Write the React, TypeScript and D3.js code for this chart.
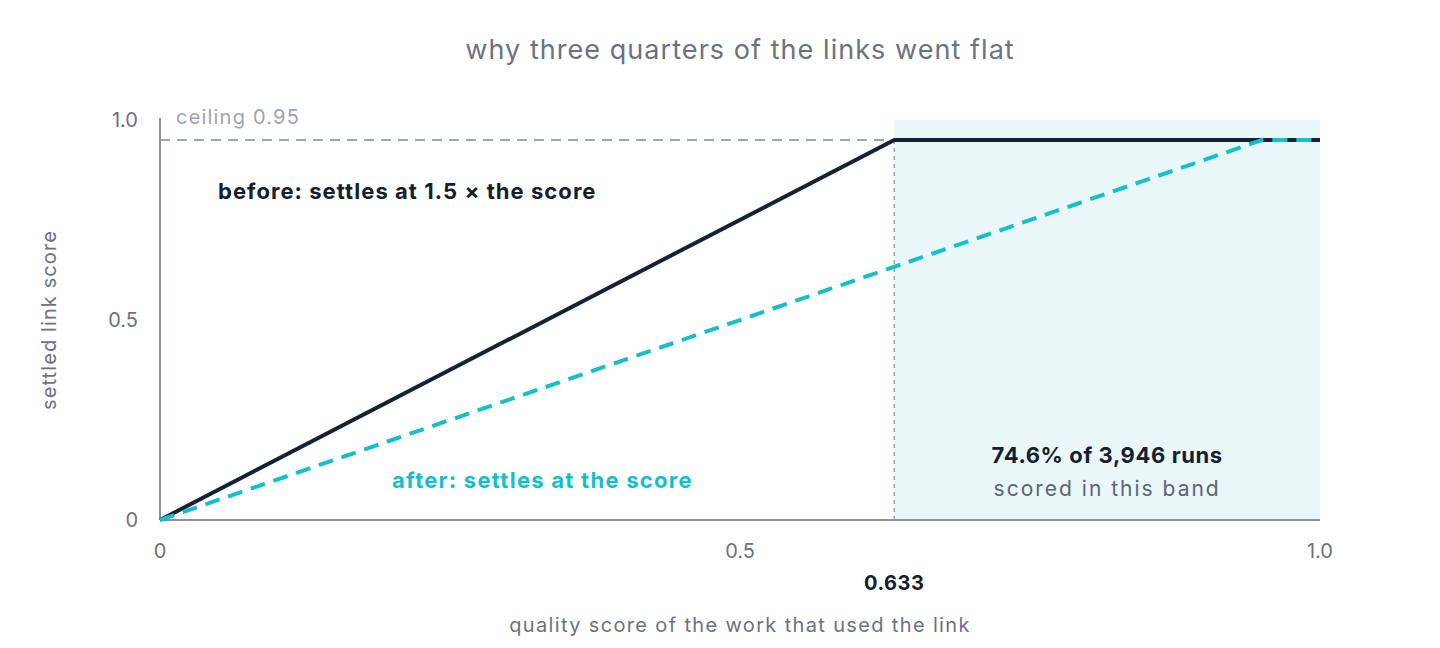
import React, { useEffect, useRef } from "react";
import * as d3 from "d3";

// data
const beforeX = [0, 0.633, 1];
const beforeY = [0, 0.95, 0.95];
const afterX = [0, 0.95, 1];
const afterY = [0, 0.95, 0.95];
const ceiling = 0.95;
const bandStart = 0.633;
const xTicks = [0, 0.5, 1];
const xTickLabels = ["0", "0.5", "1.0"];
const yTicks = [0, 0.5, 1];
const yTickLabels = ["0", "0.5", "1.0"];
const bandShare = "74.6% of 3,946 runs";

const FONT = "Inter, 'Open Sans', sans-serif";

export default function App() {
    const svgRef = useRef<SVGSVGElement | null>(null);

    useEffect(() => {
        if (!svgRef.current) return;
        const width = 1440;
        const height = 648;
        const svg = d3.select(svgRef.current);
        svg.selectAll("*").remove();
        svg.attr("viewBox", `0 0 ${width} ${height}`).style("font-family", FONT);

        const margin = { top: 120, right: 120, bottom: 128, left: 160 };
        const x = d3.scaleLinear().domain([0, 1]).range([margin.left, width - margin.right]);
        const y = d3.scaleLinear().domain([0, 1]).range([height - margin.bottom, margin.top]);

        // title
        svg.append("text")
            .attr("x", 740)
            .attr("y", 59)
            .attr("text-anchor", "middle")
            .attr("font-size", 27)
            .attr("letter-spacing", 1.05)
            .attr("fill", "#6b7280")
            .text("why three quarters of the links went flat");

        // shaded band
        svg.append("rect")
            .attr("x", x(bandStart))
            .attr("y", y(1))
            .attr("width", x(1) - x(bandStart))
            .attr("height", y(0) - y(1))
            .attr("fill", "#e9f7f9");

        // ceiling
        svg.append("line")
            .attr("x1", x(0)).attr("x2", x(1))
            .attr("y1", y(ceiling)).attr("y2", y(ceiling))
            .attr("stroke", "#9ca5b0")
            .attr("stroke-width", 2)
            .attr("stroke-dasharray", "10 7");
        svg.append("text")
            .attr("x", x(0) + 16)
            .attr("y", y(ceiling) - 16)
            .attr("font-size", 20)
            .attr("letter-spacing", 1.2)
            .attr("fill", "#9ca5b0")
            .text("ceiling 0.95");

        // band start marker
        svg.append("line")
            .attr("x1", x(bandStart)).attr("x2", x(bandStart))
            .attr("y1", y(ceiling)).attr("y2", y(0))
            .attr("stroke", "#9ca5b0")
            .attr("stroke-width", 1.5)
            .attr("stroke-dasharray", "4 4");

        // axes
        svg.append("line")
            .attr("x1", x(0)).attr("x2", x(0))
            .attr("y1", y(1) - 2).attr("y2", y(0))
            .attr("stroke", "#8c929b").attr("stroke-width", 2);
        svg.append("line")
            .attr("x1", x(0)).attr("x2", x(1))
            .attr("y1", y(0)).attr("y2", y(0))
            .attr("stroke", "#8c929b").attr("stroke-width", 2);

        xTicks.forEach((t, i) => {
            svg.append("text")
                .attr("x", x(t))
                .attr("y", y(0) + 38)
                .attr("text-anchor", "middle")
                .attr("font-size", 20)
                .attr("fill", "#6b7280")
                .text(xTickLabels[i]);
        });
        yTicks.forEach((t, i) => {
            svg.append("text")
                .attr("x", x(0) - 22)
                .attr("y", y(t) + 7)
                .attr("text-anchor", "end")
                .attr("font-size", 20)
                .attr("fill", "#6b7280")
                .text(yTickLabels[i]);
        });
        svg.append("text")
            .attr("x", x(bandStart))
            .attr("y", y(0) + 70)
            .attr("text-anchor", "middle")
            .attr("font-size", 20)
            .attr("font-weight", 700)
            .attr("letter-spacing", 0.5)
            .attr("fill", "#14202e")
            .text(String(bandStart));

        // axis titles
        svg.append("text")
            .attr("x", (x(0) + x(1)) / 2)
            .attr("y", y(0) + 112)
            .attr("text-anchor", "middle")
            .attr("font-size", 20)
            .attr("letter-spacing", 1.35)
            .attr("fill", "#6b7280")
            .text("quality score of the work that used the link");
        svg.append("text")
            .attr("transform", `translate(56, ${(y(0) + y(1)) / 2}) rotate(-90)`)
            .attr("text-anchor", "middle")
            .attr("font-size", 20)
            .attr("letter-spacing", 1.1)
            .attr("fill", "#6b7280")
            .text("settled link score");

        const line = d3.line<[number, number]>()
            .x((d) => x(d[0]))
            .y((d) => y(d[1]));

        svg.append("path")
            .datum(beforeX.map((v, i) => [v, beforeY[i]] as [number, number]))
            .attr("fill", "none")
            .attr("stroke", "#152232")
            .attr("stroke-width", 4)
            .attr("d", line);

        svg.append("path")
            .datum(afterX.map((v, i) => [v, afterY[i]] as [number, number]))
            .attr("fill", "none")
            .attr("stroke", "#14bfcc")
            .attr("stroke-width", 4)
            .attr("stroke-dasharray", "15 9")
            .attr("d", line);

        // series labels
        svg.append("text")
            .attr("x", 218)
            .attr("y", 199)
            .attr("font-size", 22)
            .attr("font-weight", 700)
            .attr("letter-spacing", 1.05)
            .attr("fill", "#14202e")
            .text("before: settles at 1.5 × the score");
        svg.append("text")
            .attr("x", 392)
            .attr("y", 488)
            .attr("font-size", 22)
            .attr("font-weight", 700)
            .attr("letter-spacing", 1.25)
            .attr("fill", "#14bfcc")
            .text("after: settles at the score");

        // band note
        const bandMid = (x(bandStart) + x(1)) / 2;
        svg.append("text")
            .attr("x", bandMid)
            .attr("y", 463)
            .attr("text-anchor", "middle")
            .attr("font-size", 22)
            .attr("font-weight", 700)
            .attr("letter-spacing", 0.6)
            .attr("fill", "#14202e")
            .text(bandShare);
        svg.append("text")
            .attr("x", bandMid)
            .attr("y", 496)
            .attr("text-anchor", "middle")
            .attr("font-size", 21)
            .attr("letter-spacing", 2)
            .attr("fill", "#5b6573")
            .text("scored in this band");
    }, []);

    return (
        <svg
            ref={svgRef}
            width={1440}
            height={648}
            style={{ position: "absolute", left: 0, top: 0, display: "block" }}
        />
    );
}
